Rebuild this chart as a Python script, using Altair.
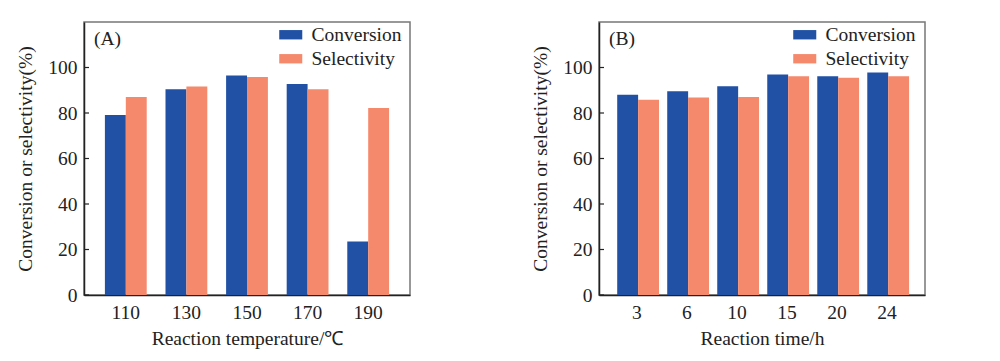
import altair as alt
import pandas as pd

# ---- data ----
temps = ["110", "130", "150", "170", "190"]
conv_a = [79.1, 90.4, 96.5, 92.8, 23.5]
sel_a = [87.0, 91.7, 95.8, 90.4, 82.2]

times = ["3", "6", "10", "15", "20", "24"]
conv_b = [88.0, 89.6, 91.8, 96.9, 96.1, 97.8]
sel_b = [85.8, 86.8, 87.0, 96.1, 95.5, 96.1]

series = ["Conversion", "Selectivity"]
colors = ["#2151A5", "#F5896C"]
y_ticks = [0, 20, 40, 60, 80, 100]
y_title = "Conversion or selectivity(%)"

FONT = "Liberation Serif"
FS = 19.5
W, H = 326, 273


def panel(cats, conv, sel, label, xtitle, pin, pout, legx):
    n = len(cats)
    df = pd.DataFrame({
        "cat": cats * 2,
        "series": [series[0]] * n + [series[1]] * n,
        "value": conv + sel,
    })
    bars = alt.Chart(df).mark_bar().encode(
        x=alt.X("cat:N", sort=cats,
                scale=alt.Scale(paddingInner=pin, paddingOuter=pout),
                axis=alt.Axis(title=xtitle, labelAngle=0, ticks=False,
                              labelPadding=8, titlePadding=8)),
        xOffset=alt.XOffset("series:N", sort=series),
        y=alt.Y("value:Q", scale=alt.Scale(domain=[0, 120], nice=False),
                axis=alt.Axis(title=y_title, values=y_ticks, ticks=False,
                              labelPadding=7, titlePadding=12, grid=False)),
        color=alt.Color("series:N",
                        scale=alt.Scale(domain=series, range=colors),
                        legend=alt.Legend(title=None, orient="none",
                                          legendX=legx, legendY=3,
                                          symbolType="M-1.28,-0.52H1.28V0.52H-1.28Z",
                                          symbolSize=324, symbolStrokeWidth=0,
                                          labelFont=FONT, labelFontSize=FS,
                                          labelColor="#222", labelOffset=11,
                                          rowPadding=3, padding=0)),
    )
    tickdf = pd.DataFrame({"value": y_ticks})
    ticks = alt.Chart(tickdf).mark_rule(color="#222", strokeWidth=1.2).encode(
        y=alt.Y("value:Q"),
        x=alt.value(0), x2=alt.value(5),
    )
    lab = alt.Chart(pd.DataFrame({"l": [label]})).mark_text(
        font=FONT, fontSize=FS, color="#222", align="left", baseline="middle"
    ).encode(text="l:N", x=alt.value(10), y=alt.value(17))
    return alt.layer(bars, ticks, lab).properties(width=W, height=H)


a = panel(temps, conv_a, sel_a, "(A)", "Reaction temperature/℃", 0.31, 0.345, 197)
b = panel(times, conv_b, sel_b, "(B)", "Reaction time/h", 0.21, 0.364, 196)

chart = alt.hconcat(a, b, spacing=119).resolve_scale(
    color="independent", x="independent"
).properties(
    padding={"left": 7, "top": 13, "right": 5, "bottom": 5}
).configure_view(
    stroke="#777", strokeWidth=1.5
).configure_axis(
    labelFont=FONT, labelFontSize=FS, labelColor="#222",
    titleFont=FONT, titleFontSize=FS, titleColor="#222", titleFontWeight="normal",
    domainColor="#222", domainWidth=1.5, grid=False
)

chart.save("out.html", embed_options={"renderer": "svg", "actions": False})
